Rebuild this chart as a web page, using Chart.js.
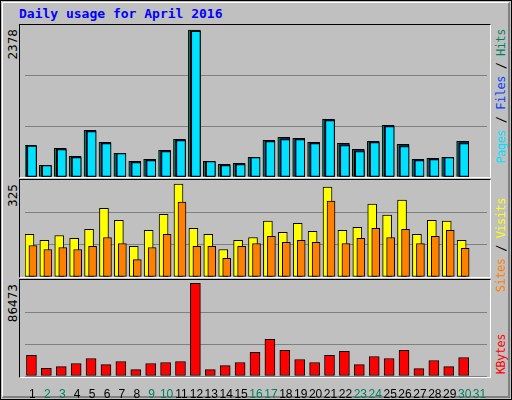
<!DOCTYPE html>
<html>
<head>
<meta charset="utf-8">
<script src="https://cdn.jsdelivr.net/npm/chart.js@4"></script>
<style>
  body { margin: 0; background: #fff; }
  #page { position: absolute; left: 0; top: 0; width: 510px; height: 398px; border: 1px solid #000; background: #c0c0c0; }
  #bevel { position: absolute; left: 1px; top: 1px; width: 505px; height: 393px; border-left: 1px solid #fff; border-top: 1px solid #fff; border-right: 2px solid #808080; border-bottom: 2px solid #808080; }
  .frame { position: absolute; left: 19px; width: 470px; border-top: 1px solid #000; border-left: 1px solid #000; border-right: 1px solid #fff; border-bottom: 1px solid #fff; }
  canvas { position: absolute; }
  #title { position: absolute; left: 19px; top: 6px; font: bold 13px "DejaVu Sans Mono", monospace; color: #0000ff; }
  .vl { position: absolute; writing-mode: vertical-rl; transform: rotate(180deg); white-space: nowrap; }
  .num { font: 12px "DejaVu Sans", sans-serif; color: #000; left: 6px; }
  .leg { font: 12px "DejaVu Sans Mono", monospace; left: 494px; letter-spacing: -0.5px; }
</style>
</head>
<body>
<div id="page"><div id="bevel"></div></div>
<div id="title">Daily usage for April 2016</div>
<div class="frame" style="top:24px;height:152px"></div>
<div class="frame" style="top:179px;height:97px"></div>
<div class="frame" style="top:279px;height:97px"></div>

<div class="vl num" style="top:29px">2378</div>
<div class="vl num" style="top:184px">325</div>
<div class="vl num" style="top:284px">86473</div>
<div class="vl leg" style="top:29px"><span style="color:#00e0ff">Pages</span><span style="color:#000"> / </span><span style="color:#0040ff">Files</span><span style="color:#000"> / </span><span style="color:#00805c">Hits</span></div>
<div class="vl leg" style="top:198px"><span style="color:#ff8000">Sites</span><span style="color:#000"> / </span><span style="color:#ffff00">Visits</span></div>
<div class="vl leg" style="top:334px"><span style="color:#ff0000">KBytes</span></div>

<canvas id="c1" width="470" height="152" style="left:20px;top:25px"></canvas>
<canvas id="c2" width="470" height="97" style="left:20px;top:180px"></canvas>
<canvas id="c3" width="470" height="118" style="left:20px;top:280px"></canvas>

<script>
const days = ["1","2","3","4","5","6","7","8","9","10","11","12","13","14","15","16","17","18","19","20","21","22","23","24","25","26","27","28","29","30","31"];
const weekendDays = ["2","3","9","10","16","17","23","24","30","31"];

const hits  = [513,189,464,335,755,562,383,254,286,431,610,2378,254,205,221,318,593,642,626,562,933,545,448,577,836,529,286,302,318,577,null];
const files = [505,185,450,322,742,550,380,242,274,420,598,2366,250,193,210,315,582,622,614,550,922,525,428,566,825,510,274,290,315,558,null];
const pages = [502,183,442,313,733,540,377,232,264,410,588,2356,248,183,200,313,572,604,604,540,912,507,410,556,815,491,264,281,313,540,null];
const visits = [149,128,145,135,167,240,198,107,163,219,325,170,149,96,128,138,195,156,188,160,314,163,174,255,216,269,149,198,195,128,null];
const sites  = [110,96,103,96,107,138,117,61,103,149,262,107,107,65,107,117,142,121,128,121,265,117,135,170,138,167,117,142,163,100,null];
const kbytes = [19180,7230,8800,11630,16350,10690,13520,5970,11630,12580,13520,86473,5970,9750,12580,22010,34270,23900,15410,12580,19180,22950,10690,18240,16350,23900,6920,14460,8800,17290,null];

const maxHits = 2459, maxVisits = 339, maxKB = 89617;

// shifts each dataset's bars sideways by its "shift" (px), webalizer-style offset bars
const shiftBars = {
  id: "shiftBars",
  afterDatasetsUpdate(chart) {
    chart.data.datasets.forEach((ds, i) => {
      if (!ds.shift) return;
      chart.getDatasetMeta(i).data.forEach(el => { el.x += ds.shift; });
    });
  }
};

function yAxis(max) {
  return {
    min: 0, max: max,
    afterBuildTicks: s => { s.ticks = [0, max / 3, 2 * max / 3].map(v => ({ value: v })); },
    afterFit: s => { s.width = 0; },
    ticks: { display: false },
    grid: { color: "#808080", drawTicks: false },
    border: { display: false }
  };
}

function opts(max, showX) {
  return {
    responsive: false, animation: false, devicePixelRatio: 1,
    layout: { padding: { left: 5, right: 3, top: 0, bottom: 0 } },
    plugins: { legend: { display: false }, tooltip: { enabled: false } },
    scales: {
      x: showX ? {
        afterFit: s => { s.height = 22; },
        grid: { display: false }, border: { display: false },
        ticks: {
          padding: 3, maxRotation: 0, autoSkip: false,
          font: { family: "Liberation Sans", size: 12 },
          color: c => weekendDays.includes(days[c.index]) ? "#00805c" : "#000"
        }
      } : { display: false },
      y: yAxis(max)
    }
  };
}

function bar(label, data, color, width, shift, order) {
  return { label, data, backgroundColor: color, borderColor: "#000", borderWidth: 1, borderSkipped: false,
           grouped: false, barThickness: width, shift, order };
}

new Chart(document.getElementById("c1"), {
  type: "bar",
  data: { labels: days, datasets: [
    bar("Hits", hits, "#00805c", 12, -2, 2),
    bar("Files", files, "#0000ff", 10, -1, 1),
    bar("Pages", pages, "#00e0ff", 9, -0.5, 0)
  ] },
  options: opts(maxHits, false),
  plugins: [shiftBars]
});

new Chart(document.getElementById("c2"), {
  type: "bar",
  data: { labels: days, datasets: [
    bar("Visits", visits, "#ffff00", 9, -3, 1),
    bar("Sites", sites, "#ff8000", 8, 0.5, 0)
  ] },
  options: opts(maxVisits, false),
  plugins: [shiftBars]
});

new Chart(document.getElementById("c3"), {
  type: "bar",
  data: { labels: days, datasets: [ bar("KBytes", kbytes, "#ff0000", 10, -1, 0) ] },
  options: opts(maxKB, true),
  plugins: [shiftBars]
});
</script>
</body>
</html>
